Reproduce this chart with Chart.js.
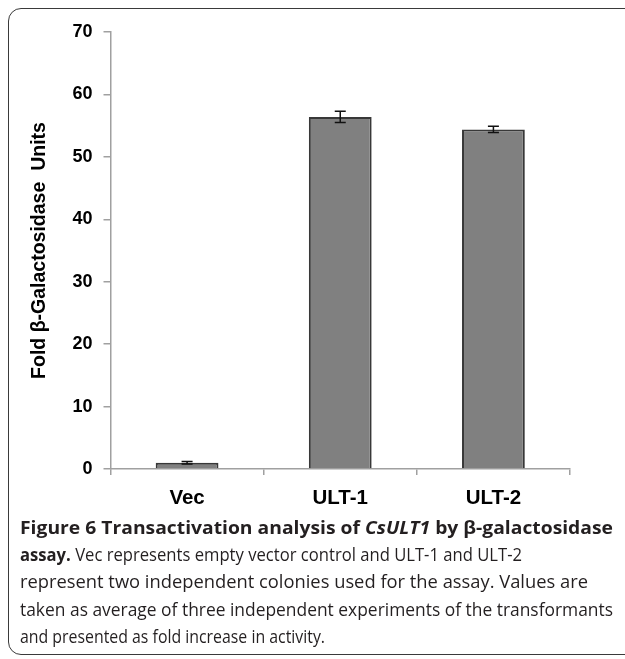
<!DOCTYPE html>
<html>
<head>
<meta charset="utf-8">
<script src="https://cdn.jsdelivr.net/npm/chart.js@4/dist/chart.umd.min.js"></script>
<style>
  html, body { margin: 0; padding: 0; background: #fff; overflow: hidden; }
  body { width: 625px; height: 659px; position: relative; }
  .frame {
    position: absolute; left: 8px; top: 8px; width: 660px; height: 647px;
    border: 1.5px solid #3a3a3a; border-radius: 13px; box-sizing: border-box;
  }
  .plot { position: absolute; left: 0; top: 0; width: 625px; height: 520px; }
  .caption {
    position: absolute; left: 20px; top: 513px;
    font-family: "Open Sans", sans-serif; font-size: 18.5px; line-height: 27.2px;
    color: #231f20; white-space: nowrap;
  }
  .caption span { display: block; transform-origin: 0 50%; width: max-content; }
  .caption b { font-weight: 700; }
</style>
</head>
<body>
<div class="frame"></div>
<div class="plot"><canvas id="chart"></canvas></div>
<div class="caption">
  <span data-w="593"><b>Figure 6 Transactivation analysis of <i>CsULT1</i> by β-galactosidase</b></span>
  <span data-w="502"><b>assay.</b> Vec represents empty vector control and ULT-1 and ULT-2</span>
  <span data-w="568">represent two independent colonies used for the assay. Values are</span>
  <span data-w="593">taken as average of three independent experiments of the transformants</span>
  <span data-w="305">and presented as fold increase in activity.</span>
</div>
<script>
// Transformant categories and their mean fold β-galactosidase activity
const categories = ['Vec', 'ULT-1', 'ULT-2'];
const foldUnits = [1.0, 56.4, 54.4];
// Error (±) for each mean
const foldError = [0.2, 0.9, 0.5];
// Y axis range
const yMin = 0;
const yMax = 70;
const yStep = 10;

// Fit each caption line to its set width
document.querySelectorAll('.caption span').forEach(el => {
  const w = el.getBoundingClientRect().width;
  const target = parseFloat(el.dataset.w);
  if (w > 0) el.style.transform = 'scaleX(' + (target / w) + ')';
});

// Draws the vertical error bars with caps on top of each bar
const errorBars = {
  id: 'errorBars',
  afterDatasetsDraw(chart) {
    const meta = chart.getDatasetMeta(0);
    const y = chart.scales.y;
    const ctx = chart.ctx;
    ctx.save();
    ctx.strokeStyle = '#111';
    ctx.lineWidth = 1.5;
    meta.data.forEach((bar, i) => {
      const v = foldUnits[i], e = foldError[i];
      const yt = y.getPixelForValue(v + e);
      const yb = y.getPixelForValue(v - e);
      const cap = 5.5;
      ctx.beginPath();
      ctx.moveTo(bar.x, yt); ctx.lineTo(bar.x, yb);
      ctx.moveTo(bar.x - cap, yt); ctx.lineTo(bar.x + cap, yt);
      ctx.moveTo(bar.x - cap, yb); ctx.lineTo(bar.x + cap, yb);
      ctx.stroke();
    });
    ctx.restore();
  }
};

const axisGray = '#a0a0a0';
const labelFont = 'Liberation Sans, Arial, sans-serif';

new Chart(document.getElementById('chart'), {
  type: 'bar',
  data: {
    labels: categories,
    datasets: [{
      data: foldUnits,
      backgroundColor: '#808080',
      borderColor: '#383838',
      borderWidth: 2,
      barPercentage: 1,
      categoryPercentage: 0.41
    }]
  },
  options: {
    responsive: true,
    maintainAspectRatio: false,
    animation: false,
    layout: { padding: { left: 0, right: 55, top: 32, bottom: 0 } },
    plugins: { legend: { display: false }, tooltip: { enabled: false } },
    scales: {
      x: {
        afterFit(s) { s.height = 51; },
        grid: {
          display: true, drawOnChartArea: false, offset: true,
          tickLength: 6, color: axisGray, lineWidth: 1.5
        },
        border: { color: axisGray, width: 1.5 },
        ticks: {
          padding: 11, color: '#000',
          font: { family: labelFont, size: 20.5, weight: 'bold' }
        }
      },
      y: {
        min: yMin, max: yMax,
        afterFit(s) { s.width = 110.5; },
        grid: {
          display: true, drawOnChartArea: false,
          tickLength: 7, color: axisGray, lineWidth: 1.5
        },
        border: { color: axisGray, width: 1.5 },
        ticks: {
          stepSize: yStep, padding: 11, color: '#000',
          font: { family: labelFont, size: 18, weight: 'bold' }
        },
        title: {
          display: true, text: 'Fold β-Galactosidase  Units', color: '#000',
          padding: { top: 28, bottom: 0 },
          font: { family: labelFont, size: 19.5, weight: 'bold' }
        }
      }
    }
  },
  plugins: [errorBars]
});
</script>
</body>
</html>
